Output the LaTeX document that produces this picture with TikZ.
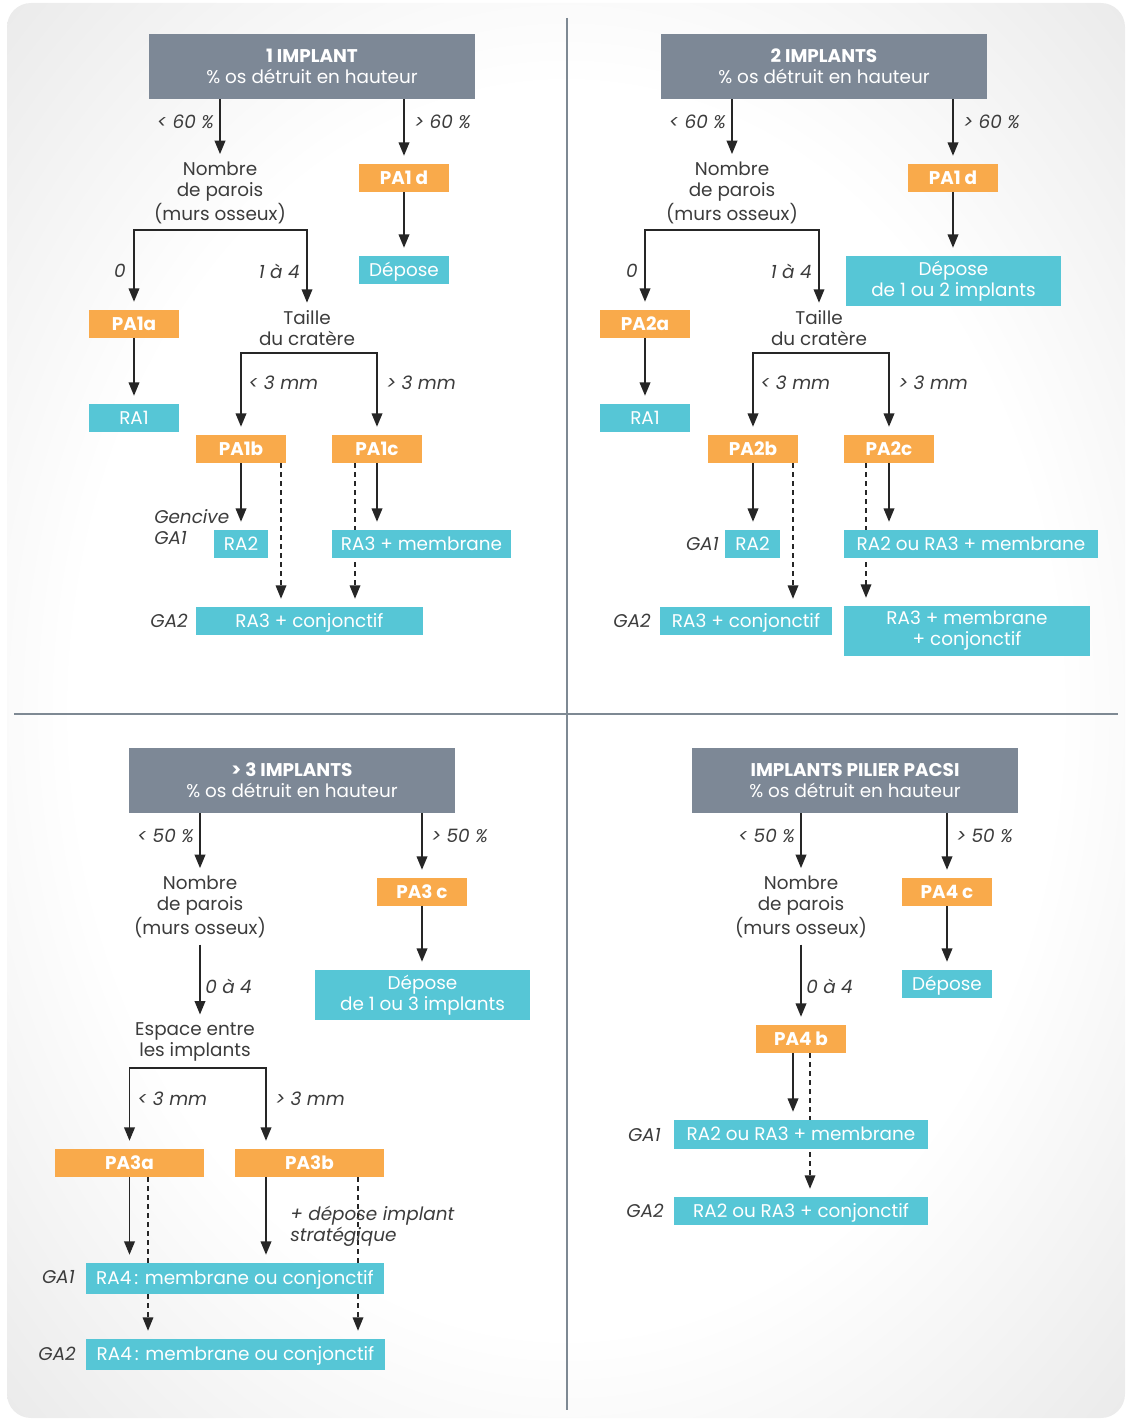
\documentclass[tikz,border=0pt]{standalone}
\usepackage{fontspec}
\setmainfont{Poppins}
\usetikzlibrary{arrows.meta}

\definecolor{headgray}{HTML}{7D8896}
\definecolor{paorange}{HTML}{F9AA4B}
\definecolor{racyan}{HTML}{56C6D6}
\definecolor{inkgray}{HTML}{3C3C3C}
\definecolor{rulegray}{HTML}{7E8993}

\pgfdeclarelayer{bg}
\pgfdeclarelayer{edges}
\pgfsetlayers{bg,edges,main}
\pgfdeclareradialshading{paper}{\pgfpoint{0bp}{0bp}}{color(0bp)=(white); color(22bp)=(white); color(47bp)=(black!15); color(72bp)=(black!55)}

\tikzset{
  head/.style={fill=headgray, text=white, minimum width=244.5pt, minimum height=48.75pt, align=center, inner sep=0pt},
  pabox/.style={fill=paorange, text=white, font=\bfseries, minimum width=67.5pt, minimum height=21pt, inner sep=0pt},
  rabox/.style={fill=racyan, text=white, minimum width=67.5pt, minimum height=21pt, inner sep=0pt, text height=9.7pt, text depth=0pt},
  rabox2/.style={rabox, text height={}, text depth={}, align=center, minimum height=37.5pt},
  crit/.style={text=inkgray, align=center, inner sep=0pt},
  cond/.style={text=inkgray, font=\itshape, inner sep=0pt},
  arr/.style={-{Triangle[width=8pt,length=10pt]}, line width=1.1pt, draw=black!85, shorten >=6pt},
  darr/.style={arr, dash pattern=on 3.75pt off 3pt, line width=0.9pt},
  rule/.style={draw=rulegray, line width=1.5pt},
}

\begin{document}
\fontsize{13.8}{15.75}\selectfont
\begin{tikzpicture}[x=0.75pt, y=-0.75pt]
\useasboundingbox (0,0) rectangle (1125,1420);
\begin{pgfonlayer}{bg}
  \shade[shading=paper, rounded corners=18pt] (7,3) rectangle (1125,1418);
\end{pgfonlayer}
\draw[rule] (567,18) -- (567,1410);
\draw[rule] (14,714) -- (1118,714);

% 1 implant
\node[head] (h1) at (312,66.5) {\textbf{1 IMPLANT}\\\% os détruit en hauteur};
\node[crit] (nb1) at (220,193) {Nombre\\de parois\\(murs osseux)};
\node[pabox] (pa1d) at (404,178) {PA1 d};
\node[rabox] (dep1) at (404,270) {Dépose};
\node[pabox] (pa1a) at (134,324) {PA1a};
\node[rabox] (ra1) at (134,418) {RA1};
\node[crit] (tc1) at (307,328.5) {Taille\\du cratère};
\node[pabox] (pa1b) at (241,449) {PA1b};
\node[pabox] (pa1c) at (377,449) {PA1c};
\node[rabox, minimum width=40.5pt] (ra2b) at (241,544) {RA2};
\node[rabox, minimum width=134.25pt] (ra3m) at (421.5,544) {RA3 + membrane};
\node[rabox, minimum width=170.25pt] (ra3c) at (309.5,621) {RA3 + conjonctif};
\node[cond, anchor=east] (c1a) at (214,122) {< 60 \%};
\node[cond, anchor=west] (c1b) at (414,122) {> 60 \%};
\node[cond] (c1c) at (120,271) {0};
\node[cond, anchor=east] (c1d) at (300,271) {1 à 4};
\node[cond, anchor=west] (c1e) at (248,383) {< 3 mm};
\node[cond, anchor=west] (c1f) at (386,383) {> 3 mm};
\node[cond, anchor=west, align=left] (g1a) at (154,527.5) {Gencive\\GA1};
\node[cond, anchor=east] (g1b) at (188,621) {GA2};
\coordinate (b1) at (220,230);
\coordinate (b2) at (309,353);
\coordinate (pa1bd) at (281,463);
\coordinate (pa1cd) at (355,463);

% 2 implants
\node[head] (h2) at (824,66.5) {\textbf{2 IMPLANTS}\\\% os détruit en hauteur};
\node[crit] (nb2) at (732,193) {Nombre\\de parois\\(murs osseux)};
\node[pabox] (pa2d) at (953,178) {PA1 d};
\node[rabox2, minimum width=161.25pt] (dep2) at (953.5,281) {Dépose\\de 1 ou 2 implants};
\node[pabox] (pa2a) at (645,324) {PA2a};
\node[rabox] (ra2a) at (645,418) {RA1};
\node[crit] (tc2) at (819,328.5) {Taille\\du cratère};
\node[pabox] (pa2b) at (753,449) {PA2b};
\node[pabox] (pa2c) at (889,449) {PA2c};
\node[rabox, minimum width=41.25pt] (ra2c) at (752.5,544) {RA2};
\node[rabox, minimum width=190.5pt] (ra23m) at (971,544) {RA2 ou RA3 + membrane};
\node[rabox, minimum width=129pt] (ra3c2) at (746,621) {RA3 + conjonctif};
\node[rabox2, minimum width=184.5pt] (ra3mc) at (967,631) {RA3 + membrane\\+ conjonctif};
\node[cond, anchor=east] (c2a) at (726,122) {< 60 \%};
\node[cond, anchor=west] (c2b) at (963,122) {> 60 \%};
\node[cond] (c2c) at (632,271) {0};
\node[cond, anchor=east] (c2d) at (812,271) {1 à 4};
\node[cond, anchor=west] (c2e) at (760,383) {< 3 mm};
\node[cond, anchor=west] (c2f) at (898,383) {> 3 mm};
\node[cond, anchor=east] (g2a) at (719,544) {GA1};
\node[cond, anchor=east] (g2b) at (651,621) {GA2};
\coordinate (b3) at (732,230);
\coordinate (b4) at (821,353);
\coordinate (pa2bd) at (793,463);
\coordinate (pa2cd) at (866,463);

% > 3 implants
\node[head] (h3) at (292,780.5) {\textbf{> 3 IMPLANTS}\\\% os détruit en hauteur};
\node[crit] (nb3) at (200,907) {Nombre\\de parois\\(murs osseux)};
\node[pabox] (pa3c) at (422,892) {PA3 c};
\node[rabox2, minimum width=161.25pt] (dep3) at (422.5,995) {Dépose\\de 1 ou 3 implants};
\node[crit] (es3) at (195,1042) {Espace entre\\les implants};
\node[pabox, minimum width=111.75pt] (pa3a) at (129.5,1163) {PA3a};
\node[pabox, minimum width=111.75pt] (pa3b) at (309.5,1163) {PA3b};
\node[rabox, minimum width=223.5pt, minimum height=23.25pt] (ga1r) at (235,1278.5) {RA4\,: membrane ou conjonctif};
\node[rabox, minimum width=224.25pt, minimum height=23.25pt] (ga2r) at (235.5,1354.5) {RA4\,: membrane ou conjonctif};
\node[cond, anchor=east] (c3a) at (194,836) {< 50 \%};
\node[cond, anchor=west] (c3b) at (431,836) {> 50 \%};
\node[cond, anchor=west] (c3c) at (205,986) {0 à 4};
\node[cond, anchor=west] (c3d) at (137,1099) {< 3 mm};
\node[cond, anchor=west] (c3e) at (275,1099) {> 3 mm};
\node[cond, anchor=west, align=left] (c3f) at (290,1226) {+ dépose implant\\stratégique};
\node[cond, anchor=east] (g3a) at (75,1277) {GA1};
\node[cond, anchor=east] (g3b) at (76,1354) {GA2};
\coordinate (b5) at (198,1068);
\coordinate (pa3ad) at (148,1177);
\coordinate (pa3bs) at (266,1177);
\coordinate (pa3bd) at (358,1177);

% implants pilier pacsi
\node[head] (h4) at (855,780.5) {\textbf{IMPLANTS PILIER PACSI}\\\% os détruit en hauteur};
\node[crit] (nb4) at (801,907) {Nombre\\de parois\\(murs osseux)};
\node[pabox] (pa4c) at (947,892) {PA4 c};
\node[rabox] (dep4) at (947,984) {Dépose};
\node[pabox] (pa4b) at (801,1039) {PA4 b};
\node[rabox, minimum width=190.5pt, minimum height=21.75pt] (ra4m) at (801,1134.5) {RA2 ou RA3 + membrane};
\node[rabox, minimum width=190.5pt] (ra4c) at (801,1211) {RA2 ou RA3 + conjonctif};
\node[cond, anchor=east] (c4a) at (795,836) {< 50 \%};
\node[cond, anchor=west] (c4b) at (956,836) {> 50 \%};
\node[cond, anchor=west] (c4c) at (806,986) {0 à 4};
\node[cond, anchor=east] (g4a) at (661,1135) {GA1};
\node[cond, anchor=east] (g4b) at (664,1211) {GA2};
\coordinate (pa4bs) at (793,1053);
\coordinate (pa4bd) at (810,1053);

\begin{pgfonlayer}{edges}
  % 1 implant
  \draw[arr] (h1.south -| nb1) -- (nb1);
  \draw[arr] (h1.south -| pa1d) -- (pa1d);
  \draw[arr] (pa1d) -- (dep1);
  \draw[arr] (b1) -| (pa1a);
  \draw[arr] (b1) -| (tc1);
  \draw[arr] (pa1a) -- (ra1);
  \draw[arr] (b2) -| (pa1b);
  \draw[arr] (b2) -| (pa1c);
  \draw[arr] (pa1b) -- (ra2b);
  \draw[arr] (pa1c) -- (pa1c |- ra3m.north);
  \draw[darr] (pa1bd) -- (pa1bd |- ra3c.north);
  \draw[darr] (pa1cd) -- (pa1cd |- ra3c.north);
  % 2 implants
  \draw[arr] (h2.south -| nb2) -- (nb2);
  \draw[arr] (h2.south -| pa2d) -- (pa2d);
  \draw[arr] (pa2d) -- (pa2d |- dep2.north);
  \draw[arr] (b3) -| (pa2a);
  \draw[arr] (b3) -| (tc2);
  \draw[arr] (pa2a) -- (ra2a);
  \draw[arr] (b4) -| (pa2b);
  \draw[arr] (b4) -| (pa2c);
  \draw[arr] (pa2b) -- (pa2b |- ra2c.north);
  \draw[arr] (pa2c) -- (pa2c |- ra23m.north);
  \draw[darr] (pa2bd) -- (pa2bd |- ra3c2.north);
  \draw[darr] (pa2cd) -- (pa2cd |- ra3mc.north);
  % > 3 implants
  \draw[arr] (h3.south -| nb3) -- (nb3);
  \draw[arr] (h3.south -| pa3c) -- (pa3c);
  \draw[arr] (pa3c) -- (pa3c |- dep3.north);
  \draw[arr, shorten <=5pt] (nb3) -- (nb3 |- es3.north);
  \draw[arr] (b5) -| (pa3a);
  \draw[arr] (b5) -| (pa3bs |- pa3b.north);
  \draw[arr] (pa3a) -- (pa3a |- ga1r.north);
  \draw[arr] (pa3bs) -- (pa3bs |- ga1r.north);
  \draw[darr] (pa3ad) -- (pa3ad |- ga2r.north);
  \draw[darr] (pa3bd) -- (pa3bd |- ga2r.north);
  % implants pilier pacsi
  \draw[arr] (h4.south -| nb4) -- (nb4);
  \draw[arr] (h4.south -| pa4c) -- (pa4c);
  \draw[arr] (pa4c) -- (dep4);
  \draw[arr, shorten <=5pt] (nb4) -- (pa4b);
  \draw[arr] (pa4bs) -- (pa4bs |- ra4m.north);
  \draw[darr] (pa4bd) -- (pa4bd |- ra4c.north);
\end{pgfonlayer}
\end{tikzpicture}
\end{document}
